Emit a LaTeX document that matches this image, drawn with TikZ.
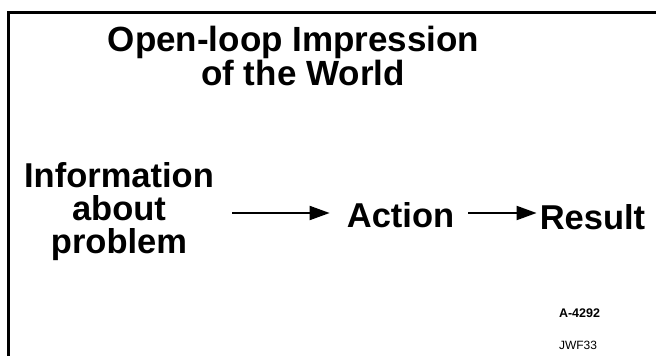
\documentclass[tikz,border=0pt]{standalone}
\usepackage{fontspec}
\setmainfont{Liberation Sans}
\usetikzlibrary{arrows.meta}
\begin{document}
\begin{tikzpicture}[x=1pt,y=-1pt,
  big/.style={font=\bfseries\fontsize{34.5}{33}\selectfont, inner sep=0pt, align=center},
  titlefont/.style={font=\bfseries\fontsize{35}{30}\selectfont, inner sep=0pt, anchor=base},
  small/.style={font=\fontsize{12}{14}\selectfont, inner sep=0pt},
  arr/.style={line width=2pt, -{Triangle[length=20pt,width=14pt]}},
  frameline/.style={line width=3pt}]
\useasboundingbox (0,0) rectangle (656,356);
\fill[white] (0,0) rectangle (656,356);
\coordinate (fbl) at (8.5,356);
\coordinate (ftl) at (8.5,12.5);
\coordinate (ftr) at (656,12.5);
\draw[frameline] (fbl) -- (ftl) -- (ftr);
\node[titlefont] (title) at (293.5,51) {Open-loop Impression};
\node[titlefont] (titlesub) at (303,85) {of the World};
\node[big] (info) at (119,212) {Information\\about\\problem};
\node[big, anchor=base] (action) at (400.5,227) {Action};
\node[big, anchor=base] (result) at (592.5,229) {Result};
\draw[arr, shorten <=18pt, shorten >=17pt] ([yshift=-1pt]info.east) -- ([yshift=-1pt]action.west |- info.east);
\draw[arr, shorten <=14pt, shorten >=3pt] ([yshift=-1pt]action.east |- info.east) -- ([yshift=-1pt]result.west |- info.east);
\node[small, font=\bfseries\fontsize{12.5}{14}\selectfont, anchor=base] (code) at (579.5,317) {A-4292};
\node[small, anchor=base] (jwf) at (578,349) {JWF33};
\end{tikzpicture}
\end{document}
